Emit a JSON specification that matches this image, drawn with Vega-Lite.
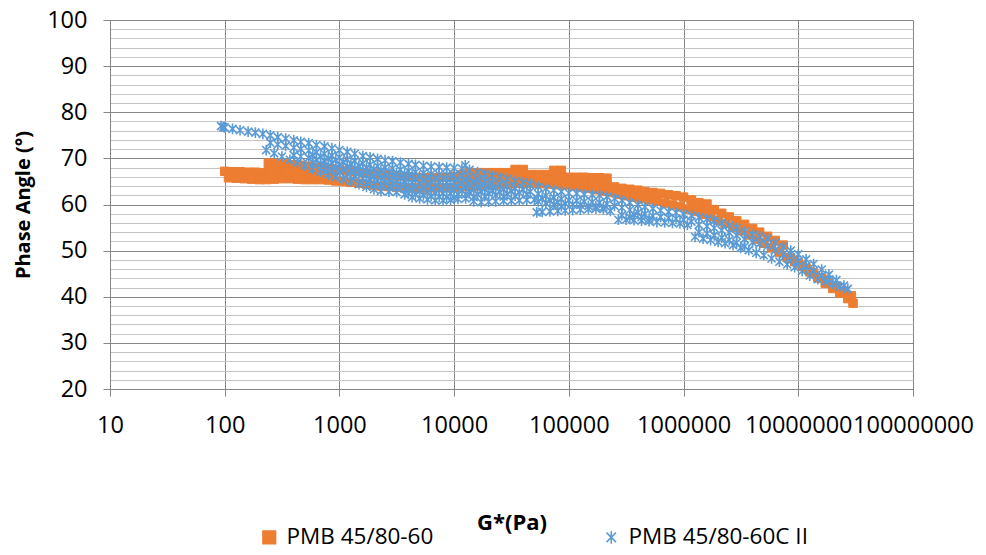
{
  "$schema": "https://vega.github.io/schema/vega-lite/v6.json",
  "width": 803,
  "height": 369,
  "autosize": {"type": "none"},
  "padding": {"left": 110, "top": 20, "right": 73, "bottom": 166},
  "background": "white",
  "config": {"view": {"stroke": null}},
  "data": {"values": [
{"s":"PMB 45/80-60","g":100,"p":67.2},{"s":"PMB 45/80-60","g":117,"p":67.1},{"s":"PMB 45/80-60","g":136,"p":67.1},{"s":"PMB 45/80-60","g":160,"p":67.0},{"s":"PMB 45/80-60","g":185,"p":67.0},{"s":"PMB 45/80-60","g":215,"p":66.9},{"s":"PMB 45/80-60","g":240,"p":68.9},{"s":"PMB 45/80-60","g":250,"p":69.0},{"s":"PMB 45/80-60","g":290,"p":68.9},{"s":"PMB 45/80-60","g":340,"p":68.8},{"s":"PMB 45/80-60","g":400,"p":68.6},{"s":"PMB 45/80-60","g":460,"p":68.5},{"s":"PMB 45/80-60","g":540,"p":68.3},{"s":"PMB 45/80-60","g":630,"p":68.1},{"s":"PMB 45/80-60","g":740,"p":67.9},{"s":"PMB 45/80-60","g":860,"p":67.7},
{"s":"PMB 45/80-60","g":1000,"p":67.5},{"s":"PMB 45/80-60","g":1170,"p":67.3},{"s":"PMB 45/80-60","g":1360,"p":67.1},{"s":"PMB 45/80-60","g":1600,"p":66.9},{"s":"PMB 45/80-60","g":1850,"p":66.7},{"s":"PMB 45/80-60","g":2150,"p":66.6},{"s":"PMB 45/80-60","g":2500,"p":66.4},{"s":"PMB 45/80-60","g":2900,"p":66.2},{"s":"PMB 45/80-60","g":3400,"p":66.1},{"s":"PMB 45/80-60","g":4000,"p":66.0},{"s":"PMB 45/80-60","g":4600,"p":65.9},{"s":"PMB 45/80-60","g":5400,"p":65.8},{"s":"PMB 45/80-60","g":6300,"p":65.8},{"s":"PMB 45/80-60","g":7400,"p":65.8},{"s":"PMB 45/80-60","g":8600,"p":65.9},
{"s":"PMB 45/80-60","g":10000,"p":66.1},{"s":"PMB 45/80-60","g":11700,"p":66.5},{"s":"PMB 45/80-60","g":13600,"p":66.9},{"s":"PMB 45/80-60","g":16000,"p":66.9},{"s":"PMB 45/80-60","g":18500,"p":66.9},{"s":"PMB 45/80-60","g":21500,"p":66.9},{"s":"PMB 45/80-60","g":25000,"p":66.9},{"s":"PMB 45/80-60","g":29000,"p":66.9},{"s":"PMB 45/80-60","g":34000,"p":67.6},{"s":"PMB 45/80-60","g":40000,"p":67.6},{"s":"PMB 45/80-60","g":46000,"p":66.5},{"s":"PMB 45/80-60","g":54000,"p":66.5},{"s":"PMB 45/80-60","g":63000,"p":66.5},{"s":"PMB 45/80-60","g":74000,"p":67.4},{"s":"PMB 45/80-60","g":86000,"p":67.4},
{"s":"PMB 45/80-60","g":100000,"p":65.9},{"s":"PMB 45/80-60","g":117000,"p":65.9},{"s":"PMB 45/80-60","g":136000,"p":65.9},{"s":"PMB 45/80-60","g":160000,"p":65.8},{"s":"PMB 45/80-60","g":185000,"p":65.8},{"s":"PMB 45/80-60","g":215000,"p":65.7},{"s":"PMB 45/80-60","g":250000,"p":63.8},{"s":"PMB 45/80-60","g":290000,"p":63.5},{"s":"PMB 45/80-60","g":340000,"p":63.3},{"s":"PMB 45/80-60","g":400000,"p":63.1},{"s":"PMB 45/80-60","g":460000,"p":62.8},{"s":"PMB 45/80-60","g":540000,"p":62.6},{"s":"PMB 45/80-60","g":630000,"p":62.4},{"s":"PMB 45/80-60","g":740000,"p":62.1},{"s":"PMB 45/80-60","g":860000,"p":61.9},
{"s":"PMB 45/80-60","g":1000000,"p":61.6},{"s":"PMB 45/80-60","g":1170000,"p":61.0},{"s":"PMB 45/80-60","g":1360000,"p":60.4},{"s":"PMB 45/80-60","g":1600000,"p":60.1},{"s":"PMB 45/80-60","g":1850000,"p":58.9},{"s":"PMB 45/80-60","g":2150000,"p":58.1},{"s":"PMB 45/80-60","g":2500000,"p":57.3},{"s":"PMB 45/80-60","g":2900000,"p":56.5},{"s":"PMB 45/80-60","g":3400000,"p":55.7},{"s":"PMB 45/80-60","g":4000000,"p":54.8},{"s":"PMB 45/80-60","g":4600000,"p":54.0},{"s":"PMB 45/80-60","g":5400000,"p":53.1},{"s":"PMB 45/80-60","g":6300000,"p":52.2},{"s":"PMB 45/80-60","g":7400000,"p":51.2},{"s":"PMB 45/80-60","g":8600000,"p":48.3},
{"s":"PMB 45/80-60","g":10000000,"p":47.3},{"s":"PMB 45/80-60","g":11700000,"p":46.2},{"s":"PMB 45/80-60","g":13600000,"p":45.1},{"s":"PMB 45/80-60","g":16000000,"p":44.0},{"s":"PMB 45/80-60","g":18500000,"p":43.0},{"s":"PMB 45/80-60","g":21500000,"p":42.1},{"s":"PMB 45/80-60","g":25000000,"p":41.2},{"s":"PMB 45/80-60","g":29000000,"p":40.2},
{"s":"PMB 45/80-60","g":108,"p":65.8},{"s":"PMB 45/80-60","g":126,"p":65.7},{"s":"PMB 45/80-60","g":148,"p":65.6},{"s":"PMB 45/80-60","g":172,"p":65.5},{"s":"PMB 45/80-60","g":200,"p":65.4},{"s":"PMB 45/80-60","g":230,"p":65.4},{"s":"PMB 45/80-60","g":270,"p":65.5},{"s":"PMB 45/80-60","g":315,"p":65.6},{"s":"PMB 45/80-60","g":370,"p":65.6},{"s":"PMB 45/80-60","g":430,"p":65.5},{"s":"PMB 45/80-60","g":500,"p":65.4},{"s":"PMB 45/80-60","g":585,"p":65.4},{"s":"PMB 45/80-60","g":685,"p":65.4},{"s":"PMB 45/80-60","g":800,"p":65.3},{"s":"PMB 45/80-60","g":930,"p":65.1},
{"s":"PMB 45/80-60","g":1080,"p":65.0},{"s":"PMB 45/80-60","g":1260,"p":64.8},{"s":"PMB 45/80-60","g":1480,"p":64.6},{"s":"PMB 45/80-60","g":1720,"p":64.4},{"s":"PMB 45/80-60","g":2000,"p":64.2},{"s":"PMB 45/80-60","g":2300,"p":64.0},{"s":"PMB 45/80-60","g":2700,"p":63.9},{"s":"PMB 45/80-60","g":3150,"p":63.8},{"s":"PMB 45/80-60","g":3700,"p":63.7},{"s":"PMB 45/80-60","g":4300,"p":63.6},{"s":"PMB 45/80-60","g":5000,"p":63.6},{"s":"PMB 45/80-60","g":5850,"p":63.6},{"s":"PMB 45/80-60","g":6850,"p":63.6},{"s":"PMB 45/80-60","g":8000,"p":63.6},{"s":"PMB 45/80-60","g":9300,"p":63.7},
{"s":"PMB 45/80-60","g":10800,"p":63.8},{"s":"PMB 45/80-60","g":12600,"p":63.9},{"s":"PMB 45/80-60","g":14800,"p":64.0},{"s":"PMB 45/80-60","g":17200,"p":64.1},{"s":"PMB 45/80-60","g":20000,"p":64.2},{"s":"PMB 45/80-60","g":23000,"p":64.3},{"s":"PMB 45/80-60","g":27000,"p":64.4},{"s":"PMB 45/80-60","g":31500,"p":64.5},{"s":"PMB 45/80-60","g":37000,"p":64.6},{"s":"PMB 45/80-60","g":43000,"p":64.6},{"s":"PMB 45/80-60","g":50000,"p":64.6},{"s":"PMB 45/80-60","g":58500,"p":64.5},{"s":"PMB 45/80-60","g":68500,"p":64.4},{"s":"PMB 45/80-60","g":80000,"p":64.3},{"s":"PMB 45/80-60","g":93000,"p":64.2},
{"s":"PMB 45/80-60","g":108000,"p":64.0},{"s":"PMB 45/80-60","g":126000,"p":63.8},{"s":"PMB 45/80-60","g":148000,"p":63.5},{"s":"PMB 45/80-60","g":172000,"p":63.2},{"s":"PMB 45/80-60","g":200000,"p":62.9},{"s":"PMB 45/80-60","g":230000,"p":62.6},{"s":"PMB 45/80-60","g":270000,"p":62.2},{"s":"PMB 45/80-60","g":315000,"p":61.9},{"s":"PMB 45/80-60","g":370000,"p":61.6},{"s":"PMB 45/80-60","g":430000,"p":61.3},{"s":"PMB 45/80-60","g":500000,"p":61.0},{"s":"PMB 45/80-60","g":585000,"p":60.7},{"s":"PMB 45/80-60","g":685000,"p":60.3},{"s":"PMB 45/80-60","g":800000,"p":59.9},{"s":"PMB 45/80-60","g":930000,"p":59.5},
{"s":"PMB 45/80-60","g":1080000,"p":59.0},{"s":"PMB 45/80-60","g":1260000,"p":58.5},{"s":"PMB 45/80-60","g":1480000,"p":57.9},{"s":"PMB 45/80-60","g":1720000,"p":57.3},{"s":"PMB 45/80-60","g":2000000,"p":56.6},{"s":"PMB 45/80-60","g":2300000,"p":55.9},{"s":"PMB 45/80-60","g":2700000,"p":55.1},{"s":"PMB 45/80-60","g":3150000,"p":54.3},{"s":"PMB 45/80-60","g":3700000,"p":53.4},{"s":"PMB 45/80-60","g":4300000,"p":52.5},{"s":"PMB 45/80-60","g":5000000,"p":51.6},{"s":"PMB 45/80-60","g":5850000,"p":50.6},{"s":"PMB 45/80-60","g":6850000,"p":49.6},{"s":"PMB 45/80-60","g":8000000,"p":48.5},{"s":"PMB 45/80-60","g":9300000,"p":47.6},
{"s":"PMB 45/80-60","g":10800000,"p":46.6},{"s":"PMB 45/80-60","g":12600000,"p":45.4},{"s":"PMB 45/80-60","g":14800000,"p":44.1},{"s":"PMB 45/80-60","g":17200000,"p":42.9},{"s":"PMB 45/80-60","g":20000000,"p":41.8},{"s":"PMB 45/80-60","g":23000000,"p":40.8},{"s":"PMB 45/80-60","g":27000000,"p":39.6},{"s":"PMB 45/80-60","g":30000000,"p":38.6},
{"s":"PMB 45/80-60","g":250,"p":67.4},{"s":"PMB 45/80-60","g":290,"p":67.3},{"s":"PMB 45/80-60","g":340,"p":67.2},{"s":"PMB 45/80-60","g":400,"p":67.0},{"s":"PMB 45/80-60","g":460,"p":66.9},{"s":"PMB 45/80-60","g":540,"p":66.7},{"s":"PMB 45/80-60","g":630,"p":66.5},{"s":"PMB 45/80-60","g":740,"p":66.3},{"s":"PMB 45/80-60","g":860,"p":66.1},
{"s":"PMB 45/80-60","g":11700,"p":65.1},{"s":"PMB 45/80-60","g":13600,"p":65.4},{"s":"PMB 45/80-60","g":16000,"p":65.5},{"s":"PMB 45/80-60","g":18500,"p":65.5},{"s":"PMB 45/80-60","g":21500,"p":65.6},{"s":"PMB 45/80-60","g":25000,"p":65.6},{"s":"PMB 45/80-60","g":29000,"p":65.7},{"s":"PMB 45/80-60","g":34000,"p":66.0},{"s":"PMB 45/80-60","g":40000,"p":66.0},{"s":"PMB 45/80-60","g":46000,"p":65.5},{"s":"PMB 45/80-60","g":54000,"p":65.5},{"s":"PMB 45/80-60","g":63000,"p":65.4},{"s":"PMB 45/80-60","g":74000,"p":65.8},{"s":"PMB 45/80-60","g":86000,"p":65.7},
{"s":"PMB 45/80-60","g":117000,"p":64.6},{"s":"PMB 45/80-60","g":136000,"p":64.5},{"s":"PMB 45/80-60","g":160000,"p":64.4},{"s":"PMB 45/80-60","g":185000,"p":64.3},{"s":"PMB 45/80-60","g":215000,"p":64.1},
{"s":"PMB 45/80-60","g":1170000,"p":59.8},{"s":"PMB 45/80-60","g":1360000,"p":59.2},{"s":"PMB 45/80-60","g":1600000,"p":58.7},
{"s":"PMB 45/80-60C II","g":93,"p":77.0},{"s":"PMB 45/80-60C II","g":97,"p":76.8},{"s":"PMB 45/80-60C II","g":100,"p":76.7},{"s":"PMB 45/80-60C II","g":117,"p":76.4},{"s":"PMB 45/80-60C II","g":136,"p":76.1},{"s":"PMB 45/80-60C II","g":160,"p":75.8},{"s":"PMB 45/80-60C II","g":185,"p":75.6},{"s":"PMB 45/80-60C II","g":215,"p":75.3},{"s":"PMB 45/80-60C II","g":250,"p":75.0},{"s":"PMB 45/80-60C II","g":290,"p":74.6},{"s":"PMB 45/80-60C II","g":340,"p":74.3},{"s":"PMB 45/80-60C II","g":400,"p":73.9},{"s":"PMB 45/80-60C II","g":460,"p":73.6},{"s":"PMB 45/80-60C II","g":540,"p":73.3},{"s":"PMB 45/80-60C II","g":630,"p":72.9},{"s":"PMB 45/80-60C II","g":740,"p":72.6},{"s":"PMB 45/80-60C II","g":860,"p":72.2},
{"s":"PMB 45/80-60C II","g":1000,"p":71.8},{"s":"PMB 45/80-60C II","g":1170,"p":71.4},{"s":"PMB 45/80-60C II","g":1360,"p":71.0},{"s":"PMB 45/80-60C II","g":1600,"p":70.5},{"s":"PMB 45/80-60C II","g":1850,"p":70.2},{"s":"PMB 45/80-60C II","g":2150,"p":69.9},{"s":"PMB 45/80-60C II","g":2500,"p":69.6},{"s":"PMB 45/80-60C II","g":2900,"p":69.4},{"s":"PMB 45/80-60C II","g":3400,"p":69.1},{"s":"PMB 45/80-60C II","g":4000,"p":68.8},{"s":"PMB 45/80-60C II","g":4600,"p":68.6},{"s":"PMB 45/80-60C II","g":5400,"p":68.4},{"s":"PMB 45/80-60C II","g":6300,"p":68.2},{"s":"PMB 45/80-60C II","g":7400,"p":68.1},{"s":"PMB 45/80-60C II","g":8600,"p":68.0},
{"s":"PMB 45/80-60C II","g":10000,"p":67.9},{"s":"PMB 45/80-60C II","g":11700,"p":67.8},{"s":"PMB 45/80-60C II","g":12500,"p":68.5},{"s":"PMB 45/80-60C II","g":13600,"p":67.5},{"s":"PMB 45/80-60C II","g":16000,"p":67.0},{"s":"PMB 45/80-60C II","g":18500,"p":66.6},{"s":"PMB 45/80-60C II","g":21500,"p":66.2},{"s":"PMB 45/80-60C II","g":25000,"p":65.9},{"s":"PMB 45/80-60C II","g":29000,"p":65.5},{"s":"PMB 45/80-60C II","g":34000,"p":65.1},{"s":"PMB 45/80-60C II","g":40000,"p":64.8},{"s":"PMB 45/80-60C II","g":46000,"p":64.4},{"s":"PMB 45/80-60C II","g":54000,"p":63.9},{"s":"PMB 45/80-60C II","g":63000,"p":63.5},{"s":"PMB 45/80-60C II","g":74000,"p":63.1},{"s":"PMB 45/80-60C II","g":86000,"p":62.8},
{"s":"PMB 45/80-60C II","g":100000,"p":62.5},{"s":"PMB 45/80-60C II","g":117000,"p":62.4},{"s":"PMB 45/80-60C II","g":136000,"p":62.2},{"s":"PMB 45/80-60C II","g":160000,"p":62.1},{"s":"PMB 45/80-60C II","g":185000,"p":62.0},{"s":"PMB 45/80-60C II","g":215000,"p":61.7},{"s":"PMB 45/80-60C II","g":250000,"p":61.3},{"s":"PMB 45/80-60C II","g":290000,"p":60.9},{"s":"PMB 45/80-60C II","g":340000,"p":60.4},{"s":"PMB 45/80-60C II","g":400000,"p":59.9},{"s":"PMB 45/80-60C II","g":460000,"p":59.5},{"s":"PMB 45/80-60C II","g":540000,"p":59.1},{"s":"PMB 45/80-60C II","g":630000,"p":58.7},{"s":"PMB 45/80-60C II","g":740000,"p":58.4},{"s":"PMB 45/80-60C II","g":860000,"p":58.2},
{"s":"PMB 45/80-60C II","g":1000000,"p":57.9},{"s":"PMB 45/80-60C II","g":1170000,"p":57.6},{"s":"PMB 45/80-60C II","g":1360000,"p":57.2},{"s":"PMB 45/80-60C II","g":1600000,"p":56.9},{"s":"PMB 45/80-60C II","g":1850000,"p":56.5},{"s":"PMB 45/80-60C II","g":2150000,"p":56.0},{"s":"PMB 45/80-60C II","g":2500000,"p":55.5},{"s":"PMB 45/80-60C II","g":2900000,"p":54.9},{"s":"PMB 45/80-60C II","g":3400000,"p":54.1},{"s":"PMB 45/80-60C II","g":4000000,"p":53.4},{"s":"PMB 45/80-60C II","g":4600000,"p":53.1},{"s":"PMB 45/80-60C II","g":5400000,"p":52.6},{"s":"PMB 45/80-60C II","g":6300000,"p":51.7},{"s":"PMB 45/80-60C II","g":7400000,"p":50.8},{"s":"PMB 45/80-60C II","g":8600000,"p":50.0},
{"s":"PMB 45/80-60C II","g":10000000,"p":49.2},{"s":"PMB 45/80-60C II","g":11700000,"p":48.1},{"s":"PMB 45/80-60C II","g":13600000,"p":47.1},{"s":"PMB 45/80-60C II","g":16000000,"p":45.9},{"s":"PMB 45/80-60C II","g":18500000,"p":44.8},{"s":"PMB 45/80-60C II","g":21500000,"p":43.6},{"s":"PMB 45/80-60C II","g":25000000,"p":42.4},
{"s":"PMB 45/80-60C II","g":230,"p":71.8},{"s":"PMB 45/80-60C II","g":270,"p":71.1},{"s":"PMB 45/80-60C II","g":315,"p":70.4},{"s":"PMB 45/80-60C II","g":370,"p":69.7},{"s":"PMB 45/80-60C II","g":430,"p":69.1},{"s":"PMB 45/80-60C II","g":500,"p":68.4},{"s":"PMB 45/80-60C II","g":585,"p":67.7},{"s":"PMB 45/80-60C II","g":685,"p":67.1},{"s":"PMB 45/80-60C II","g":800,"p":66.5},{"s":"PMB 45/80-60C II","g":930,"p":66.0},
{"s":"PMB 45/80-60C II","g":1080,"p":65.5},{"s":"PMB 45/80-60C II","g":1260,"p":65.0},{"s":"PMB 45/80-60C II","g":1480,"p":64.4},{"s":"PMB 45/80-60C II","g":1720,"p":63.8},{"s":"PMB 45/80-60C II","g":2000,"p":63.3},{"s":"PMB 45/80-60C II","g":2300,"p":62.9},{"s":"PMB 45/80-60C II","g":2700,"p":62.8},{"s":"PMB 45/80-60C II","g":3150,"p":62.7},{"s":"PMB 45/80-60C II","g":3700,"p":62.2},{"s":"PMB 45/80-60C II","g":4300,"p":61.6},{"s":"PMB 45/80-60C II","g":5000,"p":61.3},{"s":"PMB 45/80-60C II","g":5850,"p":61.1},{"s":"PMB 45/80-60C II","g":6850,"p":60.9},{"s":"PMB 45/80-60C II","g":8000,"p":60.9},{"s":"PMB 45/80-60C II","g":9300,"p":61.0},
{"s":"PMB 45/80-60C II","g":10800,"p":61.2},{"s":"PMB 45/80-60C II","g":12600,"p":61.3},{"s":"PMB 45/80-60C II","g":14800,"p":60.7},{"s":"PMB 45/80-60C II","g":17200,"p":60.5},{"s":"PMB 45/80-60C II","g":20000,"p":60.6},{"s":"PMB 45/80-60C II","g":23000,"p":60.7},{"s":"PMB 45/80-60C II","g":27000,"p":60.8},{"s":"PMB 45/80-60C II","g":31500,"p":60.8},{"s":"PMB 45/80-60C II","g":37000,"p":60.9},{"s":"PMB 45/80-60C II","g":43000,"p":61.0},{"s":"PMB 45/80-60C II","g":50000,"p":61.0},{"s":"PMB 45/80-60C II","g":52500,"p":58.3},{"s":"PMB 45/80-60C II","g":58500,"p":58.4},{"s":"PMB 45/80-60C II","g":68500,"p":58.5},{"s":"PMB 45/80-60C II","g":80000,"p":58.6},{"s":"PMB 45/80-60C II","g":93000,"p":58.7},
{"s":"PMB 45/80-60C II","g":108000,"p":58.8},{"s":"PMB 45/80-60C II","g":126000,"p":58.9},{"s":"PMB 45/80-60C II","g":148000,"p":59.0},{"s":"PMB 45/80-60C II","g":172000,"p":59.1},{"s":"PMB 45/80-60C II","g":200000,"p":59.0},{"s":"PMB 45/80-60C II","g":230000,"p":58.6},{"s":"PMB 45/80-60C II","g":270000,"p":56.7},{"s":"PMB 45/80-60C II","g":315000,"p":56.7},{"s":"PMB 45/80-60C II","g":370000,"p":56.6},{"s":"PMB 45/80-60C II","g":430000,"p":56.5},{"s":"PMB 45/80-60C II","g":500000,"p":56.4},{"s":"PMB 45/80-60C II","g":585000,"p":56.2},{"s":"PMB 45/80-60C II","g":685000,"p":56.1},{"s":"PMB 45/80-60C II","g":800000,"p":56.0},{"s":"PMB 45/80-60C II","g":930000,"p":55.9},
{"s":"PMB 45/80-60C II","g":1080000,"p":55.6},{"s":"PMB 45/80-60C II","g":1260000,"p":53.0},{"s":"PMB 45/80-60C II","g":1480000,"p":52.6},{"s":"PMB 45/80-60C II","g":1720000,"p":52.3},{"s":"PMB 45/80-60C II","g":2000000,"p":51.9},{"s":"PMB 45/80-60C II","g":2300000,"p":51.6},{"s":"PMB 45/80-60C II","g":2700000,"p":51.2},{"s":"PMB 45/80-60C II","g":3150000,"p":50.6},{"s":"PMB 45/80-60C II","g":3700000,"p":50.1},{"s":"PMB 45/80-60C II","g":4300000,"p":49.5},{"s":"PMB 45/80-60C II","g":5000000,"p":49.0},{"s":"PMB 45/80-60C II","g":5850000,"p":48.3},{"s":"PMB 45/80-60C II","g":6850000,"p":47.6},{"s":"PMB 45/80-60C II","g":8000000,"p":47.0},{"s":"PMB 45/80-60C II","g":9300000,"p":46.4},
{"s":"PMB 45/80-60C II","g":10800000,"p":45.6},{"s":"PMB 45/80-60C II","g":12600000,"p":44.6},{"s":"PMB 45/80-60C II","g":14800000,"p":43.8},{"s":"PMB 45/80-60C II","g":17200000,"p":43.3},{"s":"PMB 45/80-60C II","g":20000000,"p":42.8},{"s":"PMB 45/80-60C II","g":23000000,"p":42.2},{"s":"PMB 45/80-60C II","g":27000000,"p":41.7},
{"s":"PMB 45/80-60C II","g":250,"p":73.4},{"s":"PMB 45/80-60C II","g":290,"p":73.0},{"s":"PMB 45/80-60C II","g":340,"p":72.7},{"s":"PMB 45/80-60C II","g":400,"p":72.3},{"s":"PMB 45/80-60C II","g":460,"p":72.0},{"s":"PMB 45/80-60C II","g":540,"p":71.7},{"s":"PMB 45/80-60C II","g":630,"p":71.3},{"s":"PMB 45/80-60C II","g":740,"p":71.0},{"s":"PMB 45/80-60C II","g":860,"p":70.6},
{"s":"PMB 45/80-60C II","g":1000,"p":70.2},{"s":"PMB 45/80-60C II","g":1170,"p":69.8},{"s":"PMB 45/80-60C II","g":1360,"p":69.4},{"s":"PMB 45/80-60C II","g":1600,"p":68.9},{"s":"PMB 45/80-60C II","g":1850,"p":68.6},{"s":"PMB 45/80-60C II","g":2150,"p":68.3},{"s":"PMB 45/80-60C II","g":2500,"p":68.0},{"s":"PMB 45/80-60C II","g":2900,"p":67.8},{"s":"PMB 45/80-60C II","g":3400,"p":67.5},{"s":"PMB 45/80-60C II","g":4000,"p":67.2},{"s":"PMB 45/80-60C II","g":4600,"p":67.0},{"s":"PMB 45/80-60C II","g":5400,"p":66.8},{"s":"PMB 45/80-60C II","g":6300,"p":66.6},{"s":"PMB 45/80-60C II","g":7400,"p":66.5},{"s":"PMB 45/80-60C II","g":8600,"p":66.4},
{"s":"PMB 45/80-60C II","g":10000,"p":66.3},{"s":"PMB 45/80-60C II","g":11700,"p":66.2},{"s":"PMB 45/80-60C II","g":13600,"p":65.9},{"s":"PMB 45/80-60C II","g":16000,"p":65.4},{"s":"PMB 45/80-60C II","g":18500,"p":65.0},{"s":"PMB 45/80-60C II","g":21500,"p":64.6},{"s":"PMB 45/80-60C II","g":25000,"p":64.3},{"s":"PMB 45/80-60C II","g":29000,"p":63.9},{"s":"PMB 45/80-60C II","g":34000,"p":63.5},{"s":"PMB 45/80-60C II","g":40000,"p":63.2},{"s":"PMB 45/80-60C II","g":46000,"p":62.8},{"s":"PMB 45/80-60C II","g":54000,"p":62.3},{"s":"PMB 45/80-60C II","g":63000,"p":61.9},{"s":"PMB 45/80-60C II","g":74000,"p":61.5},{"s":"PMB 45/80-60C II","g":86000,"p":61.2},
{"s":"PMB 45/80-60C II","g":100000,"p":60.9},{"s":"PMB 45/80-60C II","g":117000,"p":60.8},{"s":"PMB 45/80-60C II","g":136000,"p":60.6},{"s":"PMB 45/80-60C II","g":160000,"p":60.5},{"s":"PMB 45/80-60C II","g":185000,"p":60.4},{"s":"PMB 45/80-60C II","g":215000,"p":60.1},{"s":"PMB 45/80-60C II","g":250000,"p":59.7},{"s":"PMB 45/80-60C II","g":290000,"p":59.3},{"s":"PMB 45/80-60C II","g":340000,"p":58.8},{"s":"PMB 45/80-60C II","g":400000,"p":58.3},{"s":"PMB 45/80-60C II","g":460000,"p":57.9},{"s":"PMB 45/80-60C II","g":540000,"p":57.5},{"s":"PMB 45/80-60C II","g":630000,"p":57.3},{"s":"PMB 45/80-60C II","g":740000,"p":57.1},{"s":"PMB 45/80-60C II","g":860000,"p":56.9},
{"s":"PMB 45/80-60C II","g":1000000,"p":56.7},{"s":"PMB 45/80-60C II","g":1170000,"p":56.3},{"s":"PMB 45/80-60C II","g":1360000,"p":55.6},{"s":"PMB 45/80-60C II","g":1600000,"p":55.3},{"s":"PMB 45/80-60C II","g":1850000,"p":54.9},{"s":"PMB 45/80-60C II","g":2150000,"p":54.4},{"s":"PMB 45/80-60C II","g":2500000,"p":53.9},{"s":"PMB 45/80-60C II","g":2900000,"p":53.3},{"s":"PMB 45/80-60C II","g":3400000,"p":52.5},{"s":"PMB 45/80-60C II","g":4000000,"p":51.8},{"s":"PMB 45/80-60C II","g":4600000,"p":51.5},{"s":"PMB 45/80-60C II","g":5400000,"p":51.0},{"s":"PMB 45/80-60C II","g":6300000,"p":50.1},{"s":"PMB 45/80-60C II","g":7400000,"p":49.2},{"s":"PMB 45/80-60C II","g":8600000,"p":48.4},
{"s":"PMB 45/80-60C II","g":10000000,"p":47.6},{"s":"PMB 45/80-60C II","g":11700000,"p":46.6},{"s":"PMB 45/80-60C II","g":13600000,"p":45.6},{"s":"PMB 45/80-60C II","g":16000000,"p":44.6},{"s":"PMB 45/80-60C II","g":18500000,"p":43.8},
{"s":"PMB 45/80-60C II","g":400,"p":70.7},{"s":"PMB 45/80-60C II","g":460,"p":70.4},{"s":"PMB 45/80-60C II","g":540,"p":70.1},{"s":"PMB 45/80-60C II","g":630,"p":69.7},{"s":"PMB 45/80-60C II","g":740,"p":69.4},{"s":"PMB 45/80-60C II","g":860,"p":69.0},
{"s":"PMB 45/80-60C II","g":1000,"p":68.6},{"s":"PMB 45/80-60C II","g":1170,"p":68.2},{"s":"PMB 45/80-60C II","g":1360,"p":67.8},{"s":"PMB 45/80-60C II","g":1600,"p":67.3},{"s":"PMB 45/80-60C II","g":1850,"p":67.0},{"s":"PMB 45/80-60C II","g":2150,"p":66.7},{"s":"PMB 45/80-60C II","g":2500,"p":66.4},{"s":"PMB 45/80-60C II","g":2900,"p":66.2},{"s":"PMB 45/80-60C II","g":3400,"p":65.9},{"s":"PMB 45/80-60C II","g":4000,"p":65.6},{"s":"PMB 45/80-60C II","g":4600,"p":65.4},{"s":"PMB 45/80-60C II","g":5400,"p":65.2},{"s":"PMB 45/80-60C II","g":6300,"p":65.0},{"s":"PMB 45/80-60C II","g":7400,"p":64.9},{"s":"PMB 45/80-60C II","g":8600,"p":64.8},
{"s":"PMB 45/80-60C II","g":10000,"p":64.7},{"s":"PMB 45/80-60C II","g":11700,"p":64.6},{"s":"PMB 45/80-60C II","g":13600,"p":64.3},{"s":"PMB 45/80-60C II","g":16000,"p":63.8},{"s":"PMB 45/80-60C II","g":18500,"p":63.4},{"s":"PMB 45/80-60C II","g":21500,"p":63.0},{"s":"PMB 45/80-60C II","g":25000,"p":62.7},{"s":"PMB 45/80-60C II","g":29000,"p":62.3},{"s":"PMB 45/80-60C II","g":34000,"p":61.9},
{"s":"PMB 45/80-60C II","g":54000,"p":60.7},{"s":"PMB 45/80-60C II","g":63000,"p":60.3},{"s":"PMB 45/80-60C II","g":74000,"p":59.9},{"s":"PMB 45/80-60C II","g":86000,"p":59.6},
{"s":"PMB 45/80-60C II","g":290000,"p":57.7},{"s":"PMB 45/80-60C II","g":340000,"p":57.2},
{"s":"PMB 45/80-60C II","g":1360000,"p":54.0},{"s":"PMB 45/80-60C II","g":1600000,"p":53.7},{"s":"PMB 45/80-60C II","g":1850000,"p":53.3},{"s":"PMB 45/80-60C II","g":2150000,"p":52.8},{"s":"PMB 45/80-60C II","g":2500000,"p":52.3},{"s":"PMB 45/80-60C II","g":2900000,"p":51.7},{"s":"PMB 45/80-60C II","g":3400000,"p":50.9},
{"s":"PMB 45/80-60C II","g":740,"p":67.8},{"s":"PMB 45/80-60C II","g":860,"p":67.4},{"s":"PMB 45/80-60C II","g":1000,"p":67.0},{"s":"PMB 45/80-60C II","g":1170,"p":66.6},{"s":"PMB 45/80-60C II","g":1360,"p":66.2},{"s":"PMB 45/80-60C II","g":1600,"p":65.7},{"s":"PMB 45/80-60C II","g":1850,"p":65.4},{"s":"PMB 45/80-60C II","g":2150,"p":65.1},{"s":"PMB 45/80-60C II","g":2500,"p":64.8},{"s":"PMB 45/80-60C II","g":2900,"p":64.6},{"s":"PMB 45/80-60C II","g":3400,"p":64.3},{"s":"PMB 45/80-60C II","g":4000,"p":64.0},{"s":"PMB 45/80-60C II","g":4600,"p":63.8},{"s":"PMB 45/80-60C II","g":5400,"p":63.6},{"s":"PMB 45/80-60C II","g":6300,"p":63.4},{"s":"PMB 45/80-60C II","g":7400,"p":63.3},{"s":"PMB 45/80-60C II","g":8600,"p":63.2},{"s":"PMB 45/80-60C II","g":10000,"p":63.1},{"s":"PMB 45/80-60C II","g":11700,"p":63.0},{"s":"PMB 45/80-60C II","g":13600,"p":62.7},{"s":"PMB 45/80-60C II","g":16000,"p":62.2},{"s":"PMB 45/80-60C II","g":18500,"p":61.8},
{"s":"PMB 45/80-60C II","g":4000,"p":62.4},{"s":"PMB 45/80-60C II","g":4600,"p":62.2},{"s":"PMB 45/80-60C II","g":5400,"p":62.0},{"s":"PMB 45/80-60C II","g":6300,"p":61.8},{"s":"PMB 45/80-60C II","g":7400,"p":61.7},{"s":"PMB 45/80-60C II","g":8600,"p":61.6},{"s":"PMB 45/80-60C II","g":10000,"p":61.5},
{"s":"PMB 45/80-60C II","g":585,"p":70.7},{"s":"PMB 45/80-60C II","g":685,"p":70.4},{"s":"PMB 45/80-60C II","g":800,"p":70.0},{"s":"PMB 45/80-60C II","g":930,"p":69.6},{"s":"PMB 45/80-60C II","g":1080,"p":69.2},{"s":"PMB 45/80-60C II","g":1260,"p":68.8},{"s":"PMB 45/80-60C II","g":1480,"p":68.4},{"s":"PMB 45/80-60C II","g":1720,"p":68.0},{"s":"PMB 45/80-60C II","g":2000,"p":67.6},{"s":"PMB 45/80-60C II","g":2300,"p":67.4},{"s":"PMB 45/80-60C II","g":2700,"p":67.1},{"s":"PMB 45/80-60C II","g":3150,"p":66.8},{"s":"PMB 45/80-60C II","g":3700,"p":66.6},{"s":"PMB 45/80-60C II","g":4300,"p":66.3},{"s":"PMB 45/80-60C II","g":5000,"p":66.1},{"s":"PMB 45/80-60C II","g":5850,"p":65.9},{"s":"PMB 45/80-60C II","g":6850,"p":65.7},{"s":"PMB 45/80-60C II","g":8000,"p":65.6},{"s":"PMB 45/80-60C II","g":9300,"p":65.6},{"s":"PMB 45/80-60C II","g":10800,"p":65.4},{"s":"PMB 45/80-60C II","g":12600,"p":65.4},{"s":"PMB 45/80-60C II","g":14800,"p":64.8},{"s":"PMB 45/80-60C II","g":17200,"p":64.4},{"s":"PMB 45/80-60C II","g":20000,"p":64.0},{"s":"PMB 45/80-60C II","g":23000,"p":63.6},{"s":"PMB 45/80-60C II","g":27000,"p":63.3},{"s":"PMB 45/80-60C II","g":31500,"p":62.9},{"s":"PMB 45/80-60C II","g":37000,"p":62.6},{"s":"PMB 45/80-60C II","g":43000,"p":62.2},
{"s":"PMB 45/80-60C II","g":585,"p":69.1},{"s":"PMB 45/80-60C II","g":685,"p":68.8},{"s":"PMB 45/80-60C II","g":800,"p":68.4},{"s":"PMB 45/80-60C II","g":930,"p":68.0},{"s":"PMB 45/80-60C II","g":1080,"p":67.6},{"s":"PMB 45/80-60C II","g":1260,"p":67.2},{"s":"PMB 45/80-60C II","g":1480,"p":66.8},{"s":"PMB 45/80-60C II","g":1720,"p":66.4},{"s":"PMB 45/80-60C II","g":2000,"p":66.0},{"s":"PMB 45/80-60C II","g":2300,"p":65.8},{"s":"PMB 45/80-60C II","g":2700,"p":65.5},{"s":"PMB 45/80-60C II","g":3150,"p":65.2},{"s":"PMB 45/80-60C II","g":3700,"p":65.0},{"s":"PMB 45/80-60C II","g":4300,"p":64.7},{"s":"PMB 45/80-60C II","g":5000,"p":64.5},{"s":"PMB 45/80-60C II","g":5850,"p":64.3},{"s":"PMB 45/80-60C II","g":6850,"p":64.1},{"s":"PMB 45/80-60C II","g":8000,"p":64.0},{"s":"PMB 45/80-60C II","g":9300,"p":64.0},{"s":"PMB 45/80-60C II","g":10800,"p":63.8},{"s":"PMB 45/80-60C II","g":12600,"p":63.8},{"s":"PMB 45/80-60C II","g":14800,"p":63.2},{"s":"PMB 45/80-60C II","g":17200,"p":62.8},{"s":"PMB 45/80-60C II","g":20000,"p":62.4},{"s":"PMB 45/80-60C II","g":23000,"p":62.0},{"s":"PMB 45/80-60C II","g":27000,"p":61.7},
{"s":"PMB 45/80-60C II","g":1720,"p":64.8},{"s":"PMB 45/80-60C II","g":2000,"p":64.4},{"s":"PMB 45/80-60C II","g":2300,"p":64.2},{"s":"PMB 45/80-60C II","g":2700,"p":63.9},{"s":"PMB 45/80-60C II","g":3150,"p":63.6},{"s":"PMB 45/80-60C II","g":3700,"p":63.4},{"s":"PMB 45/80-60C II","g":4300,"p":63.1},{"s":"PMB 45/80-60C II","g":5000,"p":62.9},{"s":"PMB 45/80-60C II","g":5850,"p":62.7},{"s":"PMB 45/80-60C II","g":6850,"p":62.5},{"s":"PMB 45/80-60C II","g":8000,"p":62.4},{"s":"PMB 45/80-60C II","g":9300,"p":62.4},{"s":"PMB 45/80-60C II","g":10800,"p":62.2},{"s":"PMB 45/80-60C II","g":12600,"p":62.2},{"s":"PMB 45/80-60C II","g":14800,"p":61.6},
{"s":"PMB 45/80-60C II","g":58500,"p":61.3},{"s":"PMB 45/80-60C II","g":68500,"p":60.9},{"s":"PMB 45/80-60C II","g":80000,"p":60.5},{"s":"PMB 45/80-60C II","g":93000,"p":60.2},{"s":"PMB 45/80-60C II","g":108000,"p":60.0},{"s":"PMB 45/80-60C II","g":126000,"p":59.9},{"s":"PMB 45/80-60C II","g":148000,"p":59.7},{"s":"PMB 45/80-60C II","g":172000,"p":59.6},{"s":"PMB 45/80-60C II","g":200000,"p":59.4},
{"s":"PMB 45/80-60C II","g":370000,"p":57.8},{"s":"PMB 45/80-60C II","g":430000,"p":57.3},{"s":"PMB 45/80-60C II","g":500000,"p":56.9}
  ]},
  "encoding": {
    "x": {
      "field": "g", "type": "quantitative",
      "scale": {"type": "log", "domain": [10, 100000000], "nice": false},
      "axis": {
        "title": "G*(Pa)",
        "values": [10, 100, 1000, 10000, 100000, 1000000, 10000000, 100000000],
        "format": "d",
        "labelOverlap": false, "labelFlush": false, "labelBound": false,
        "labelFont": "Open Sans", "labelFontSize": 23.5, "labelColor": "#000000", "labelPadding": 17,
        "tickSize": 7, "tickColor": "#868686", "domainColor": "#868686",
        "grid": true, "gridColor": "#868686", "gridWidth": 1,
        "titleFont": "Open Sans", "titleFontSize": 22, "titleFontWeight": "bold", "titleColor": "#000000",
        "titleY": 140, "titleBaseline": "alphabetic"
      }
    },
    "y": {
      "field": "p", "type": "quantitative",
      "scale": {"domain": [20, 100], "nice": false, "zero": false},
      "axis": {
        "title": "Phase Angle (°)",
        "values": [20,22,24,26,28,30,32,34,36,38,40,42,44,46,48,50,52,54,56,58,60,62,64,66,68,70,72,74,76,78,80,82,84,86,88,90,92,94,96,98,100],
        "labelExpr": "datum.value % 10 === 0 ? datum.label : ''",
        "labelOverlap": false, "labelFlush": false, "labelBound": false,
        "labelFont": "Open Sans", "labelFontSize": 23.5, "labelColor": "#000000", "labelPadding": 16,
        "tickSize": 7, "tickColor": "#868686",
        "tickOpacity": {"condition": {"test": "datum.value % 10 === 0", "value": 1}, "value": 0},
        "domainColor": "#868686",
        "grid": true,
        "gridColor": {"condition": {"test": "datum.value % 10 === 0", "value": "#868686"}, "value": "#c4c4c4"},
        "gridWidth": 1,
        "titleFont": "Open Sans", "titleFontSize": 20, "titleFontWeight": "bold", "titleColor": "#000000",
        "titleX": -81, "titleBaseline": "alphabetic"
      }
    },
    "shape": {
      "field": "s", "type": "nominal",
      "scale": {"domain": ["PMB 45/80-60", "PMB 45/80-60C II"], "range": ["square", "M-0.75,-0.75L0.75,0.75M-0.75,0.75L0.75,-0.75M0,-1L0,1"]},
      "legend": {"orient": "none", "legendX": 148, "legendY": 506, "direction": "horizontal", "columns": 2, "title": null, "labelFont": "Open Sans", "labelFontSize": 22.5, "labelColor": "#000000", "labelLimit": 300, "labelOffset": 6, "columnPadding": 166, "symbolSize": 160, "symbolStrokeWidth": 1.5, "padding": 0}
    },
    "fill": {
      "field": "s", "type": "nominal",
      "scale": {"domain": ["PMB 45/80-60", "PMB 45/80-60C II"], "range": ["#ED7D31", "transparent"]},
      "legend": {"orient": "none", "legendX": 148, "legendY": 506, "direction": "horizontal", "columns": 2, "title": null, "labelFont": "Open Sans", "labelFontSize": 22.5, "labelColor": "#000000", "labelLimit": 300, "labelOffset": 6, "columnPadding": 166, "symbolSize": 160, "symbolStrokeWidth": 1.5, "padding": 0}
    },
    "stroke": {
      "field": "s", "type": "nominal",
      "scale": {"domain": ["PMB 45/80-60", "PMB 45/80-60C II"], "range": ["#ED7D31", "#5B9BD5"]},
      "legend": {"orient": "none", "legendX": 148, "legendY": 506, "direction": "horizontal", "columns": 2, "title": null, "labelFont": "Open Sans", "labelFontSize": 22.5, "labelColor": "#000000", "labelLimit": 300, "labelOffset": 6, "columnPadding": 166, "symbolSize": 160, "symbolStrokeWidth": 1.5, "padding": 0}
    }
  },
  "layer": [
    {
      "transform": [{"filter": "datum.s === 'PMB 45/80-60'"}],
      "mark": {"type": "point", "size": 72, "strokeWidth": 1, "opacity": 1}
    },
    {
      "transform": [{"filter": "datum.s === 'PMB 45/80-60C II'"}],
      "mark": {"type": "point", "size": 115, "strokeWidth": 1.6, "opacity": 1}
    }
  ]
}
